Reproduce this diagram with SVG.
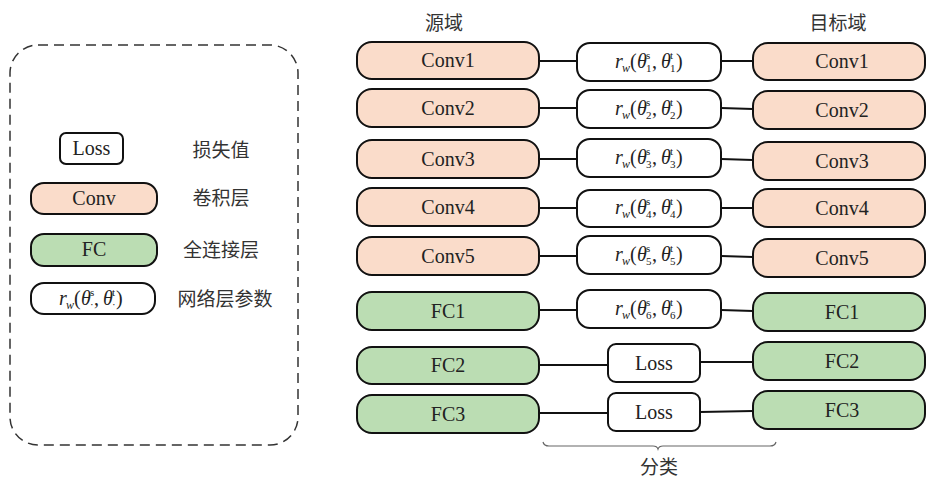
<svg xmlns="http://www.w3.org/2000/svg" width="927" height="478" viewBox="0 0 927 478">
<style>
.conv{fill:#FADCCA;stroke:#111;stroke-width:2}
.fc{fill:#BBDDB3;stroke:#111;stroke-width:2}
.wb{fill:#fff;stroke:#111;stroke-width:2}
.lbl{font-family:"Liberation Serif","Times New Roman",serif;font-size:20px;fill:#222;text-anchor:middle}
.cn{font-family:"Noto Sans CJK SC","Noto Sans",sans-serif;font-size:19px;fill:#333;text-anchor:middle}
.m{font-family:"Liberation Serif","Times New Roman",serif;font-size:20px;fill:#222}
.i{font-style:italic}
.sb{font-size:11px}
.ln{stroke:#111;stroke-width:2;fill:none}
</style>
<rect x="0" y="0" width="927" height="478" fill="#fff"/>

<g id="legend">
<rect x="10" y="45" width="288" height="400" rx="28" ry="28" fill="none" stroke="#333" stroke-width="1.5" stroke-dasharray="10 6"/>
<rect class="wb" x="60" y="133" width="63" height="31" rx="6"/>
<text class="lbl" x="91.5" y="155">Loss</text>
<text class="cn" x="221" y="157">损失值</text>
<rect class="conv" x="31" y="183" width="126" height="31" rx="13"/>
<text class="lbl" x="94" y="205">Conv</text>
<text class="cn" x="221" y="205">卷积层</text>
<rect class="fc" x="31" y="234" width="126" height="32" rx="13"/>
<text class="lbl" x="94" y="256">FC</text>
<text class="cn" x="221" y="257">全连接层</text>
<rect class="wb" x="31" y="283" width="124" height="31" rx="13"/>
<g transform="translate(59,298.5)">
<text class="m"><tspan class="i" x="0" y="6">r</tspan><tspan class="i" x="7" y="10" font-size="12">w</tspan><tspan x="15" y="6">(</tspan><tspan class="i" x="22" y="6">θ</tspan><tspan class="sb" x="31" y="-3">s</tspan><tspan class="sb" x="31" y="9">·</tspan><tspan x="35" y="6">,</tspan><tspan class="i" x="44" y="6">θ</tspan><tspan class="sb" x="53" y="-3">t</tspan><tspan class="sb" x="53" y="9">·</tspan><tspan x="57" y="6">)</tspan></text>
</g>
<text class="cn" x="225" y="306">网络层参数</text>
</g>

<g id="headers">
<text class="cn" x="444" y="30">源域</text>
<text class="cn" x="838" y="30">目标域</text>
</g>

<g id="connectors">
<line class="ln" x1="539" y1="61" x2="577" y2="61"/>
<line class="ln" x1="721" y1="61" x2="753" y2="61"/>
<line class="ln" x1="539" y1="108" x2="577" y2="108"/>
<line class="ln" x1="721" y1="108" x2="753" y2="109"/>
<line class="ln" x1="539" y1="159" x2="577" y2="159"/>
<line class="ln" x1="721" y1="159" x2="753" y2="160"/>
<line class="ln" x1="539" y1="208" x2="577" y2="208"/>
<line class="ln" x1="721" y1="208" x2="753" y2="208"/>
<line class="ln" x1="539" y1="256" x2="577" y2="256"/>
<line class="ln" x1="721" y1="256" x2="753" y2="257"/>
<line class="ln" x1="539" y1="310" x2="577" y2="310"/>
<line class="ln" x1="721" y1="310" x2="753" y2="311"/>
<line class="ln" x1="539" y1="365" x2="608" y2="365"/>
<line class="ln" x1="700" y1="362" x2="753" y2="362"/>
<line class="ln" x1="539" y1="413" x2="608" y2="413"/>
<line class="ln" x1="700" y1="412" x2="753" y2="411"/>
</g>

<g id="src-conv1"><rect class="conv" x="357" y="42" width="182" height="37" rx="15"/><text class="lbl" x="448" y="67">Conv1</text></g>
<g id="src-conv2"><rect class="conv" x="357" y="89" width="182" height="38" rx="15"/><text class="lbl" x="448" y="115">Conv2</text></g>
<g id="src-conv3"><rect class="conv" x="357" y="140" width="182" height="38" rx="15"/><text class="lbl" x="448" y="166">Conv3</text></g>
<g id="src-conv4"><rect class="conv" x="357" y="188" width="182" height="38" rx="15"/><text class="lbl" x="448" y="214">Conv4</text></g>
<g id="src-conv5"><rect class="conv" x="357" y="237" width="182" height="38" rx="15"/><text class="lbl" x="448" y="263">Conv5</text></g>
<g id="src-fc1"><rect class="fc" x="357" y="292" width="182" height="38" rx="15"/><text class="lbl" x="448" y="318">FC1</text></g>
<g id="src-fc2"><rect class="fc" x="357" y="347" width="182" height="37" rx="15"/><text class="lbl" x="448" y="372">FC2</text></g>
<g id="src-fc3"><rect class="fc" x="357" y="395" width="182" height="38" rx="15"/><text class="lbl" x="448" y="421">FC3</text></g>

<g id="rw1"><rect class="wb" x="577" y="43" width="144" height="38" rx="13"/>
<g transform="translate(615,62)"><text class="m"><tspan class="i" x="0" y="6">r</tspan><tspan class="i" x="7" y="10" font-size="12">w</tspan><tspan x="15" y="6">(</tspan><tspan class="i" x="22" y="6">θ</tspan><tspan class="sb" x="31" y="-3">s</tspan><tspan class="sb" x="31" y="10">1</tspan><tspan x="37" y="6">,</tspan><tspan class="i" x="46" y="6">θ</tspan><tspan class="sb" x="55" y="-3">t</tspan><tspan class="sb" x="55" y="10">1</tspan><tspan x="61" y="6">)</tspan></text></g></g>
<g id="rw2"><rect class="wb" x="577" y="90" width="144" height="38" rx="13"/>
<g transform="translate(615,109)"><text class="m"><tspan class="i" x="0" y="6">r</tspan><tspan class="i" x="7" y="10" font-size="12">w</tspan><tspan x="15" y="6">(</tspan><tspan class="i" x="22" y="6">θ</tspan><tspan class="sb" x="31" y="-3">s</tspan><tspan class="sb" x="31" y="10">2</tspan><tspan x="37" y="6">,</tspan><tspan class="i" x="46" y="6">θ</tspan><tspan class="sb" x="55" y="-3">t</tspan><tspan class="sb" x="55" y="10">2</tspan><tspan x="61" y="6">)</tspan></text></g></g>
<g id="rw3"><rect class="wb" x="577" y="139" width="144" height="38" rx="13"/>
<g transform="translate(615,158)"><text class="m"><tspan class="i" x="0" y="6">r</tspan><tspan class="i" x="7" y="10" font-size="12">w</tspan><tspan x="15" y="6">(</tspan><tspan class="i" x="22" y="6">θ</tspan><tspan class="sb" x="31" y="-3">s</tspan><tspan class="sb" x="31" y="10">3</tspan><tspan x="37" y="6">,</tspan><tspan class="i" x="46" y="6">θ</tspan><tspan class="sb" x="55" y="-3">t</tspan><tspan class="sb" x="55" y="10">3</tspan><tspan x="61" y="6">)</tspan></text></g></g>
<g id="rw4"><rect class="wb" x="577" y="190" width="144" height="37" rx="13"/>
<g transform="translate(615,208)"><text class="m"><tspan class="i" x="0" y="6">r</tspan><tspan class="i" x="7" y="10" font-size="12">w</tspan><tspan x="15" y="6">(</tspan><tspan class="i" x="22" y="6">θ</tspan><tspan class="sb" x="31" y="-3">s</tspan><tspan class="sb" x="31" y="10">4</tspan><tspan x="37" y="6">,</tspan><tspan class="i" x="46" y="6">θ</tspan><tspan class="sb" x="55" y="-3">t</tspan><tspan class="sb" x="55" y="10">4</tspan><tspan x="61" y="6">)</tspan></text></g></g>
<g id="rw5"><rect class="wb" x="577" y="236" width="144" height="38" rx="13"/>
<g transform="translate(615,255)"><text class="m"><tspan class="i" x="0" y="6">r</tspan><tspan class="i" x="7" y="10" font-size="12">w</tspan><tspan x="15" y="6">(</tspan><tspan class="i" x="22" y="6">θ</tspan><tspan class="sb" x="31" y="-3">s</tspan><tspan class="sb" x="31" y="10">5</tspan><tspan x="37" y="6">,</tspan><tspan class="i" x="46" y="6">θ</tspan><tspan class="sb" x="55" y="-3">t</tspan><tspan class="sb" x="55" y="10">5</tspan><tspan x="61" y="6">)</tspan></text></g></g>
<g id="rw6"><rect class="wb" x="577" y="290" width="144" height="38" rx="13"/>
<g transform="translate(615,309)"><text class="m"><tspan class="i" x="0" y="6">r</tspan><tspan class="i" x="7" y="10" font-size="12">w</tspan><tspan x="15" y="6">(</tspan><tspan class="i" x="22" y="6">θ</tspan><tspan class="sb" x="31" y="-3">s</tspan><tspan class="sb" x="31" y="10">6</tspan><tspan x="37" y="6">,</tspan><tspan class="i" x="46" y="6">θ</tspan><tspan class="sb" x="55" y="-3">t</tspan><tspan class="sb" x="55" y="10">6</tspan><tspan x="61" y="6">)</tspan></text></g></g>

<g id="loss1"><rect class="wb" x="608" y="344" width="92" height="38" rx="8"/><text class="lbl" x="654" y="370">Loss</text></g>
<g id="loss2"><rect class="wb" x="608" y="393" width="92" height="38" rx="8"/><text class="lbl" x="654" y="419">Loss</text></g>

<g id="tgt-conv1"><rect class="conv" x="753" y="43" width="172" height="37" rx="15"/><text class="lbl" x="842" y="68">Conv1</text></g>
<g id="tgt-conv2"><rect class="conv" x="753" y="91" width="172" height="38" rx="15"/><text class="lbl" x="842" y="117">Conv2</text></g>
<g id="tgt-conv3"><rect class="conv" x="753" y="142" width="172" height="38" rx="15"/><text class="lbl" x="842" y="168">Conv3</text></g>
<g id="tgt-conv4"><rect class="conv" x="753" y="189" width="172" height="38" rx="15"/><text class="lbl" x="842" y="215">Conv4</text></g>
<g id="tgt-conv5"><rect class="conv" x="753" y="239" width="172" height="38" rx="15"/><text class="lbl" x="842" y="265">Conv5</text></g>
<g id="tgt-fc1"><rect class="fc" x="753" y="293" width="172" height="38" rx="15"/><text class="lbl" x="842" y="319">FC1</text></g>
<g id="tgt-fc2"><rect class="fc" x="753" y="342" width="172" height="38" rx="15"/><text class="lbl" x="842" y="368">FC2</text></g>
<g id="tgt-fc3"><rect class="fc" x="753" y="391" width="172" height="38" rx="15"/><text class="lbl" x="842" y="417">FC3</text></g>

<g id="brace">
<path d="M543,442 Q544,446 549,446 L653,446 Q657,446 658,449 Q659,446 663,446 L770,446 Q775,446 776,442" fill="none" stroke="#666" stroke-width="1.2"/>
<text class="cn" x="659" y="474">分类</text>
</g>
</svg>
